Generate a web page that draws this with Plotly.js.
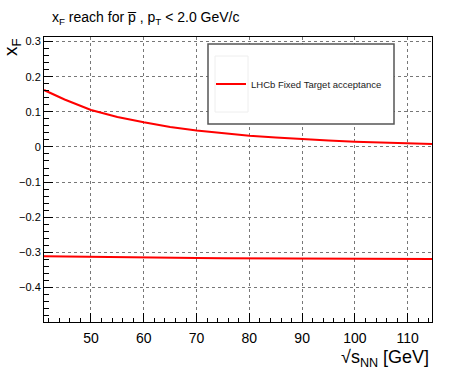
<!DOCTYPE html>
<html>
<head>
<meta charset="utf-8">
<script src="https://cdn.plot.ly/plotly-3.0.1.min.js"></script>
<style>html,body{margin:0;padding:0;background:#fff;}#chart{width:449px;height:379px;}</style>
</head>
<body>
<div id="chart"></div>
<script>
// sqrt(s_NN) in GeV
const sqrtS = [41.1, 45, 50, 55, 60, 65, 70, 75, 80, 85, 90, 95, 100, 105, 110, 114.6];
// upper edge of x_F reach (LHCb acceptance)
const xfUpper = [0.162, 0.135, 0.105, 0.085, 0.070, 0.057, 0.047, 0.039, 0.032, 0.0265, 0.0215, 0.018, 0.015, 0.012, 0.0098, 0.0082];
// lower edge of x_F reach
const xfLower = [-0.311, -0.312, -0.3135, -0.3145, -0.3153, -0.316, -0.3165, -0.317, -0.3174, -0.3177, -0.318, -0.3182, -0.3184, -0.3186, -0.3188, -0.319];
const seriesName = "LHCb Fixed Target acceptance";

const FONT = "Liberation Sans, Arial, Helvetica, sans-serif";
const PL = 44, PR = 432, PT = 37, PB = 322;
const PW = PR - PL, PH = PB - PT;
const px = v => (v - PL) / PW;
const py = v => (PB - v) / PH;

const traces = [
  {x: sqrtS, y: xfUpper, type: 'scatter', mode: 'lines', name: seriesName,
   line: {color: '#ff0000', width: 2}, showlegend: true},
  {x: sqrtS, y: xfLower, type: 'scatter', mode: 'lines', name: seriesName,
   line: {color: '#ff0000', width: 2}, showlegend: false}
];

const axisCommon = {
  showline: true, linecolor: '#000', linewidth: 1, mirror: true,
  ticks: 'inside', tickcolor: '#000', ticklen: 9, tickwidth: 1,
  showgrid: true, gridcolor: '#777', griddash: 'dot', gridwidth: 1,
  zeroline: false, tickfont: {family: FONT, color: '#000'}
};

const layout = {
  width: 449, height: 379,
  margin: {l: PL, r: 449 - PR, t: PT, b: 379 - PB},
  paper_bgcolor: '#fff', plot_bgcolor: '#fff',
  font: {family: FONT, color: '#000'},
  title: {text: 'x<sub>F</sub> reach for p\u0305 , p<sub>T</sub> < 2.0 GeV/c',
          x: 52 / 449, xanchor: 'left', y: 1 - 17 / 379, yanchor: 'middle',
          font: {family: FONT, size: 14, color: '#000'}},
  xaxis: Object.assign({}, axisCommon, {
    range: [41.1, 114.6], tick0: 0, dtick: 10,
    tickfont: {family: FONT, size: 14, color: '#000'},
    ticklabelstandoff: 3,
    minor: {tick0: 0, dtick: 2, ticks: 'inside', ticklen: 4, tickcolor: '#000', showgrid: false}
  }),
  yaxis: Object.assign({}, axisCommon, {
    range: [-0.4985, 0.313], tick0: 0, dtick: 0.1,
    tickfont: {family: FONT, size: 11, color: '#000'},
    tickformat: '.1~f',
    minor: {tick0: 0, dtick: 0.02, ticks: 'inside', ticklen: 4.5, tickcolor: '#000', showgrid: false}
  }),
  showlegend: true,
  legend: {x: px(211), y: py(84), xanchor: 'left', yanchor: 'middle',
           bgcolor: 'rgba(0,0,0,0)', borderwidth: 0,
           font: {family: FONT, size: 9.5, color: '#222'}},
  shapes: [
    {type: 'rect', xref: 'paper', yref: 'paper', x0: px(208), x1: px(394), y0: py(124), y1: py(44),
     line: {color: '#555', width: 1.5}, fillcolor: '#fff', layer: 'above'},
    {type: 'rect', xref: 'paper', yref: 'paper', x0: px(215), x1: px(248), y0: py(112), y1: py(56),
     line: {color: '#eee', width: 1}, fillcolor: 'rgba(0,0,0,0)', layer: 'above'}
  ],
  annotations: [
    {text: 'x<sub>F</sub>', xref: 'paper', yref: 'paper', x: px(12), y: py(47),
     xanchor: 'center', yanchor: 'middle', textangle: -90, showarrow: false,
     font: {family: FONT, size: 19, color: '#000'}},
    {text: '\u221As<sub>NN</sub> [GeV]', xref: 'paper', yref: 'paper', x: px(431), y: py(358),
     xanchor: 'right', yanchor: 'middle', showarrow: false,
     font: {family: FONT, size: 18, color: '#000'}}
  ]
};

Plotly.newPlot('chart', traces, layout, {displayModeBar: false, staticPlot: true});
</script>
</body>
</html>
